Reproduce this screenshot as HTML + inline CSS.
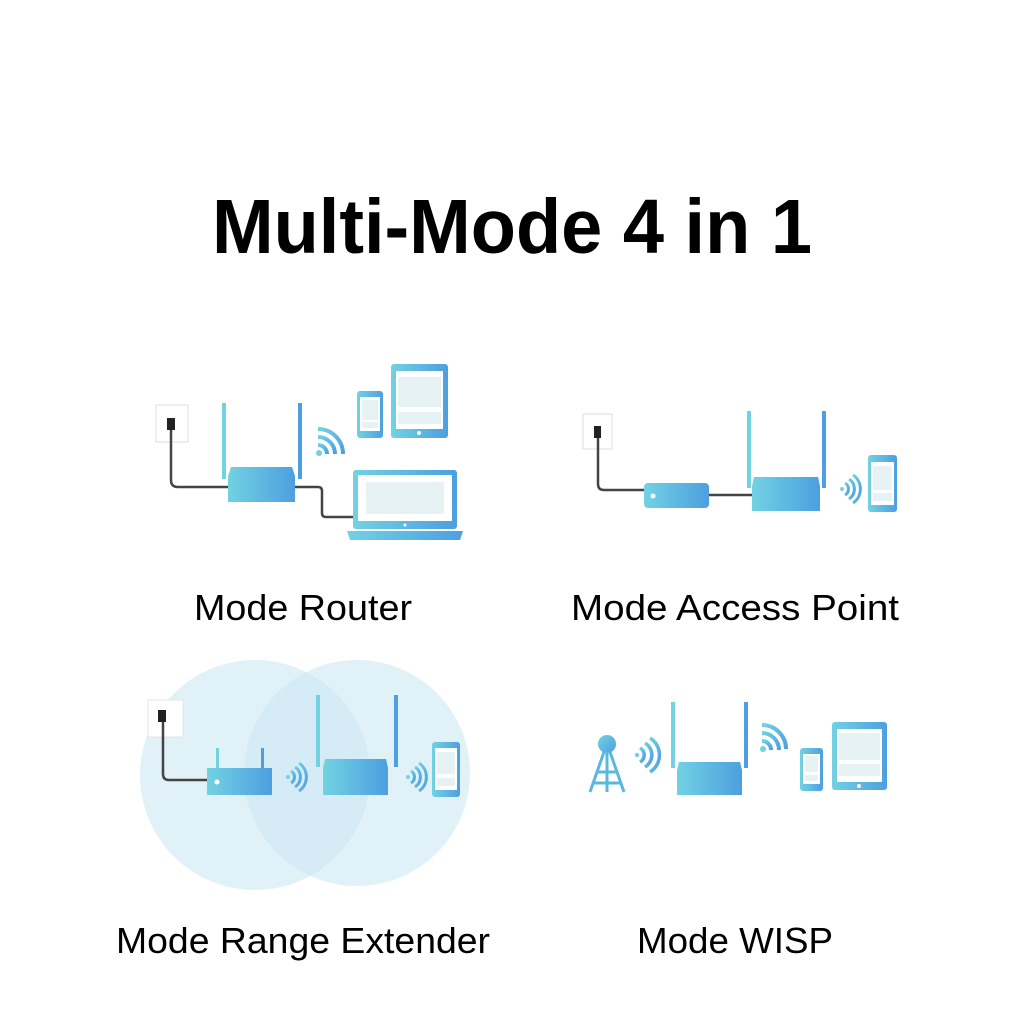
<!DOCTYPE html>
<html><head><meta charset="utf-8"><style>html,body{margin:0;padding:0;background:#fff}svg{display:block}</style></head>
<body>
<svg width="1024" height="1024" viewBox="0 0 1024 1024" xmlns="http://www.w3.org/2000/svg">
<defs>
<linearGradient id="g" x1="0" y1="0" x2="1" y2="0"><stop offset="0" stop-color="#72d2e2"/><stop offset="1" stop-color="#4d9fe0"/></linearGradient>
<linearGradient id="gv" x1="0" y1="0" x2="1" y2="1"><stop offset="0" stop-color="#72d2e2"/><stop offset="1" stop-color="#4d9fe0"/></linearGradient>
</defs>
<rect width="1024" height="1024" fill="#fff"/>
<text x="512" y="253" text-anchor="middle" font-family="Liberation Sans, sans-serif" font-weight="bold" font-size="77" textLength="600" lengthAdjust="spacingAndGlyphs" fill="#000">Multi-Mode 4 in 1</text>

<g font-family="Liberation Sans, sans-serif" font-size="36" fill="#000">
<text x="303" y="620" text-anchor="middle" textLength="218" lengthAdjust="spacingAndGlyphs">Mode Router</text>
<text x="735" y="620" text-anchor="middle" textLength="328" lengthAdjust="spacingAndGlyphs">Mode Access Point</text>
<text x="303" y="953" text-anchor="middle" textLength="374" lengthAdjust="spacingAndGlyphs">Mode Range Extender</text>
<text x="735" y="953" text-anchor="middle" textLength="196" lengthAdjust="spacingAndGlyphs">Mode WISP</text>
</g>

<!-- Router mode -->
<rect x="156" y="405" width="32" height="37" fill="#fff" stroke="#ddd"/>
<rect x="167" y="418" width="8" height="12" fill="#222"/>
<path d="M171 430 V480 Q171 487 178 487 H228" fill="none" stroke="#444" stroke-width="2.5"/>
<path d="M295 487 H318 Q322 487 322 491 V513 Q322 517 326 517 H353" fill="none" stroke="#444" stroke-width="2.5"/>
<rect x="222" y="403" width="4" height="76" fill="#72d2e2"/>
<rect x="298" y="403" width="4" height="76" fill="#4d9fe0"/>
<path d="M231 467 H292 L295 476 V502 H228 V476 Z" fill="url(#g)"/>
<rect x="353" y="470" width="104" height="59" rx="3" fill="url(#g)"/>
<rect x="358" y="475" width="94" height="46" fill="#fff"/>
<rect x="366" y="482" width="78" height="32" fill="#e6f2f4"/>
<path d="M347 531 H463 L460 540 H350 Z" fill="url(#g)"/>
<circle cx="405" cy="525" r="1.5" fill="#fff"/>
<g fill="none" stroke="url(#gv)" stroke-width="4">
<path d="M318 445 a9 9 0 0 1 9 9"/><path d="M318 437 a17 17 0 0 1 17 17"/><path d="M318 429 a25 25 0 0 1 25 25"/>
</g>
<circle cx="319" cy="453" r="3" fill="#72d2e2"/>
<rect x="357" y="391" width="26" height="47" rx="3" fill="url(#g)"/>
<rect x="360" y="397" width="20" height="34" fill="#fff"/><rect x="362" y="400" width="16" height="20" fill="#e6f2f4"/><rect x="362" y="422" width="16" height="6" fill="#e6f2f4"/>
<rect x="391" y="364" width="57" height="74" rx="3" fill="url(#g)"/>
<rect x="396" y="371" width="47" height="58" fill="#fff"/><rect x="398" y="377" width="43" height="30" fill="#e6f2f4"/><rect x="398" y="412" width="43" height="12" fill="#e6f2f4"/>
<circle cx="419" cy="433" r="2" fill="#fff"/>

<!-- AP mode -->
<rect x="583" y="414" width="29" height="35" fill="#fff" stroke="#ddd"/>
<rect x="594" y="426" width="7" height="12" fill="#222"/>
<path d="M598 438 V484 Q598 490 604 490 H646" fill="none" stroke="#444" stroke-width="2.5"/>
<path d="M709 495 H752" fill="none" stroke="#444" stroke-width="2.5"/>
<rect x="644" y="483" width="65" height="25" rx="4" fill="url(#g)"/>
<circle cx="653" cy="496" r="2.5" fill="#fff"/>
<rect x="747" y="411" width="4" height="77" fill="#72d2e2"/>
<rect x="822" y="411" width="4" height="77" fill="#4d9fe0"/>
<path d="M754 477 H818 L820 486 V511 H752 V486 Z" fill="url(#g)"/>
<g fill="none" stroke="url(#gv)" stroke-width="3">
<path d="M845 483 a7 7 0 0 1 0 12"/><path d="M849 479 a12 12 0 0 1 0 20"/><path d="M853 475 a17 17 0 0 1 0 28"/>
</g>
<circle cx="842" cy="489" r="2" fill="#72d2e2"/>
<rect x="868" y="455" width="29" height="57" rx="3" fill="url(#g)"/>
<rect x="871" y="462" width="23" height="43" fill="#fff"/><rect x="873" y="466" width="19" height="24" fill="#e6f2f4"/><rect x="873" y="493" width="19" height="8" fill="#e6f2f4"/>

<!-- Range extender -->
<circle cx="255" cy="775" r="115" fill="#cde7f3" opacity="0.6"/>
<circle cx="357" cy="773" r="113" fill="#cde7f3" opacity="0.6"/>
<rect x="148" y="700" width="35" height="37" fill="#fff" stroke="#e4e4e4"/>
<rect x="158" y="710" width="8" height="12" fill="#222"/>
<path d="M163 722 V774 Q163 780 169 780 H208" fill="none" stroke="#444" stroke-width="2.5"/>
<rect x="216" y="748" width="3" height="22" fill="#72d2e2"/>
<rect x="261" y="748" width="3" height="22" fill="#4d9fe0"/>
<rect x="207" y="768" width="65" height="27" fill="url(#g)"/>
<circle cx="217" cy="782" r="2.5" fill="#fff"/>
<rect x="316" y="695" width="4" height="72" fill="#72d2e2"/>
<rect x="394" y="695" width="4" height="72" fill="#4d9fe0"/>
<path d="M325 759 H386 L388 768 V795 H323 V768 Z" fill="url(#g)"/>
<g fill="none" stroke="url(#gv)" stroke-width="3">
<path d="M291 771 a7 7 0 0 1 0 12"/><path d="M295 767 a12 12 0 0 1 0 20"/><path d="M299 763 a17 17 0 0 1 0 28"/>
<path d="M411 771 a7 7 0 0 1 0 12"/><path d="M415 767 a12 12 0 0 1 0 20"/><path d="M419 763 a17 17 0 0 1 0 28"/>
</g>
<circle cx="288" cy="777" r="2" fill="#72d2e2"/><circle cx="408" cy="777" r="2" fill="#72d2e2"/>
<rect x="432" y="742" width="28" height="55" rx="3" fill="url(#g)"/>
<rect x="435" y="748" width="22" height="42" fill="#fff"/><rect x="437" y="752" width="18" height="22" fill="#e6f2f4"/><rect x="437" y="778" width="18" height="8" fill="#e6f2f4"/>

<!-- WISP -->
<circle cx="607" cy="744" r="9" fill="url(#gv)"/>
<g stroke="#5ab8e0" stroke-width="3" fill="none">
<path d="M604 752 L590 792 M610 752 L624 792 M597 772 H617 M593 783 H621 M607 752 V792"/>
</g>
<g fill="none" stroke="url(#gv)" stroke-width="3.5">
<path d="M640 748 a8 8 0 0 1 0 14"/><path d="M645 743 a14 14 0 0 1 0 24"/><path d="M650 738 a20 20 0 0 1 0 34"/>
</g>
<circle cx="637" cy="755" r="2.2" fill="#72d2e2"/>
<rect x="671" y="702" width="4" height="66" fill="#72d2e2"/>
<rect x="744" y="702" width="4" height="66" fill="#4d9fe0"/>
<path d="M679 762 H740 L742 770 V795 H677 V770 Z" fill="url(#g)"/>
<g fill="none" stroke="url(#gv)" stroke-width="4">
<path d="M762 741 a9 9 0 0 1 9 9"/><path d="M762 733 a17 17 0 0 1 17 17"/><path d="M762 725 a24 24 0 0 1 24 24"/>
</g>
<circle cx="763" cy="749" r="3" fill="#72d2e2"/>
<rect x="800" y="748" width="23" height="43" rx="3" fill="url(#g)"/>
<rect x="803" y="754" width="17" height="30" fill="#fff"/><rect x="805" y="756" width="13" height="16" fill="#e6f2f4"/><rect x="805" y="775" width="13" height="6" fill="#e6f2f4"/>
<rect x="832" y="722" width="55" height="68" rx="3" fill="url(#g)"/>
<rect x="837" y="729" width="45" height="53" fill="#fff"/><rect x="839" y="733" width="41" height="27" fill="#e6f2f4"/><rect x="839" y="764" width="41" height="12" fill="#e6f2f4"/>
<circle cx="859" cy="786" r="2" fill="#fff"/>
</svg>
</body></html>
